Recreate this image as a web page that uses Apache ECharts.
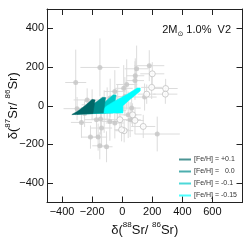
<!DOCTYPE html>
<html><head><meta charset="utf-8">
<script src="https://cdn.jsdelivr.net/npm/echarts@6/dist/echarts.min.js"></script>
<style>html,body{margin:0;padding:0;background:#fff}#c{width:249px;height:241px}</style>
</head><body><div id="c"></div>
<script>
// ---- data ----
const xTicks = [-400, -200, 0, 200, 400, 600];
const yTicks = [-400, -200, 0, 200, 400];
const legendNames = ['[Fe/H] = +0.1', '[Fe/H] =   0.0', '[Fe/H] = -0.1', '[Fe/H] = -0.15'];

// grains, filled symbols
const filledX  = [-309,-148,180,96,87,85,149,233,40,-82,-137,-171,-271,-211,-160,-149,-104,-300,-49,18,63,53,-100,-144,-49,-200,-30,10,-80,-233,-120,30,-250];
const filledY  = [120,198,207,191,155,130,45,-146,-47,-81,-115,-72,-86,-162,-162,-207,-212,-15,74,48,-12,-72,5,-69,-89,5,20,90,40,30,-30,110,-40];
const filledEx = [70,130,100,80,60,60,80,150,60,60,70,80,70,60,60,50,40,90,70,60,60,70,80,60,60,70,70,60,70,90,80,70,80];
const filledEy = [170,150,80,120,90,100,70,90,120,100,100,90,80,60,70,70,80,60,110,100,80,90,90,80,80,80,90,120,100,60,110,130,70];
// grains, open symbols
const openX  = [200,289,287,196,163,140,13,85,-15,-33,69,-4];
const openY  = [165,89,60,95,60,-107,-129,-76,-72,-24,-47,-124];
const openEx = [80,80,80,70,60,80,60,60,60,60,60,50];
const openEy = [60,50,50,60,50,60,60,70,60,60,60,60];

// model tracks (outline of the drawn bands)
const mP01X = [-335,-195,-180,-200,-240,-290];
const mP01Y = [-46,-40,30,33,5,-25];
const m00X  = [-300,-125,-110,-130,-180,-240];
const m00Y  = [-44,-38,42,44,15,-18];
const mM01X = [-250,-60,-40,-60,-115,-170];
const mM01Y = [-42,-38,55,57,20,-12];
const mM015X = [-150,5,5,40,120,120,100,30,-60,-110];
const mM015Y = [-38,-38,0,25,76,92,92,58,20,-5];

const colors = ['#006767', '#008c8c', '#00c8c8', '#00ffff'];

// ---- chart ----
const chart = echarts.init(document.getElementById('c'), null, {renderer: 'canvas'});
const FONT = 'Liberation Sans, Arial, Helvetica, sans-serif';
const fmt = v => String(v).replace('-', '\u2212');

function zip(a, b) { return a.map((v, i) => [v, b[i]]); }
function errData(x, y, ex, ey) { return x.map((v, i) => [v, y[i], ex[i], ey[i]]); }

function polySeries(name, xs, ys, color, z) {
  const pts = zip(xs, ys);
  return {
    name, type: 'custom', coordinateSystem: 'cartesian2d', z,
    data: pts, encode: {x: 0, y: 1},
    itemStyle: {color},
    silent: true,
    renderItem: function (params, api) {
      if (params.dataIndex !== 0) return null;
      return {type: 'polygon', shape: {points: pts.map(p => api.coord(p))},
              style: {fill: color, stroke: color, lineWidth: 0.5}};
    }
  };
}

function errSeries(d) {
  return {
    type: 'custom', coordinateSystem: 'cartesian2d', z: 1, silent: true,
    data: d, encode: {x: 0, y: 1},
    renderItem: function (params, api) {
      const x = api.value(0), y = api.value(1), ex = api.value(2), ey = api.value(3);
      const a = api.coord([x - ex, y]), b = api.coord([x + ex, y]);
      const c = api.coord([x, y - ey]), e = api.coord([x, y + ey]);
      const st = {stroke: '#dcdcdc', lineWidth: 1};
      return {type: 'group', children: [
        {type: 'line', shape: {x1: a[0], y1: a[1], x2: b[0], y2: b[1]}, style: st},
        {type: 'line', shape: {x1: c[0], y1: c[1], x2: e[0], y2: e[1]}, style: st}
      ]};
    }
  };
}

const axisCommon = {
  axisLine: {show: true, onZero: false, lineStyle: {color: '#222', width: 1}},
  splitLine: {show: false}
};

chart.setOption({
  animation: false,
  textStyle: {fontFamily: FONT},
  grid: {left: 47, right: 6.5, top: 9, bottom: 38.5, containLabel: false, outerBoundsMode: 'none'},
  title: {
    text: '{a|2M}{s|\u2299}{a| 1.0%  V2}', right: 13, top: 16,
    textStyle: {fontWeight: 'normal', rich: {
      a: {fontSize: 11, fontWeight: 'normal', fontFamily: FONT, color: '#111', lineHeight: 14, verticalAlign: 'bottom'},
      s: {fontSize: 7, fontWeight: 'normal', fontFamily: 'DejaVu Sans', color: '#111', lineHeight: 14, verticalAlign: 'bottom', padding: [0, 0, -3, 0]}
    }}
  },
  legend: {
    orient: 'vertical', left: 174, top: 151, itemWidth: 12, itemHeight: 2, itemGap: 5,
    icon: 'rect', selectedMode: false,
    data: legendNames.map((n, i) => ({name: n, itemStyle: {color: colors[i], opacity: 0.7}})),
    textStyle: {fontSize: 7, color: '#333', fontFamily: FONT, padding: [0, 0, 0, -2]}
  },
  xAxis: [
    Object.assign({}, axisCommon, {
      type: 'value', min: -500, max: 800, position: 'bottom',
      axisTick: {show: true, inside: true, length: 6, lineStyle: {color: '#222'}, customValues: xTicks},
      axisLabel: {show: true, fontSize: 11, color: '#111', margin: 4, formatter: fmt, customValues: xTicks},
      name: '{t|\u03b4(}{s|88}{t|Sr/ }{s|86}{t|Sr)}', nameLocation: 'middle', nameGap: 18, nameMoveOverlap: false,
      nameTextStyle: {rich: {
        t: {fontSize: 13, fontFamily: FONT, color: '#111', lineHeight: 16, verticalAlign: 'bottom'},
        s: {fontSize: 8, fontFamily: FONT, color: '#111', lineHeight: 16, verticalAlign: 'top'}
      }}
    }),
    Object.assign({}, axisCommon, {
      type: 'value', min: -500, max: 800, position: 'top',
      axisTick: {show: true, inside: true, length: 6, lineStyle: {color: '#222'}, customValues: xTicks},
      axisLabel: {show: false}
    })
  ],
  yAxis: [
    Object.assign({}, axisCommon, {
      type: 'value', min: -500, max: 500, position: 'left',
      axisTick: {show: true, inside: true, length: 6, lineStyle: {color: '#222'}, customValues: yTicks},
      axisLabel: {show: true, fontSize: 11, color: '#111', margin: 3, formatter: fmt, customValues: yTicks},
      name: '{t|\u03b4(}{s|87}{t|Sr/ }{s|86}{t|Sr)}', nameLocation: 'middle', nameGap: 27, nameRotate: 90, nameMoveOverlap: false,
      nameTextStyle: {rich: {
        t: {fontSize: 13, fontFamily: FONT, color: '#111', lineHeight: 16, verticalAlign: 'bottom'},
        s: {fontSize: 8, fontFamily: FONT, color: '#111', lineHeight: 16, verticalAlign: 'top'}
      }}
    }),
    Object.assign({}, axisCommon, {
      type: 'value', min: -500, max: 500, position: 'right',
      axisTick: {show: true, inside: true, length: 6, lineStyle: {color: '#222'}, customValues: yTicks},
      axisLabel: {show: false}
    })
  ],
  series: [
    errSeries(errData(filledX, filledY, filledEx, filledEy)),
    errSeries(errData(openX, openY, openEx, openEy)),
    {type: 'scatter', z: 2, silent: true, data: zip(filledX, filledY), symbolSize: 5,
     itemStyle: {color: '#c6c6c6'}},
    {type: 'scatter', z: 2, silent: true, data: zip(openX, openY), symbolSize: 6,
     itemStyle: {color: '#ffffff', borderColor: '#c2c2c2', borderWidth: 1}},
    polySeries(legendNames[2], mM01X, mM01Y, colors[2], 3),
    polySeries(legendNames[3], mM015X, mM015Y, colors[3], 4),
    polySeries(legendNames[1], m00X, m00Y, colors[1], 5),
    polySeries(legendNames[0], mP01X, mP01Y, colors[0], 6)
  ]
});
</script></body></html>
